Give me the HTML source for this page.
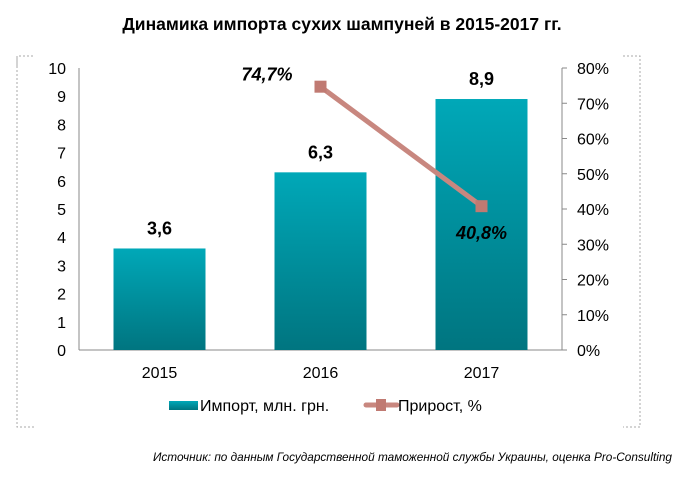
<!DOCTYPE html>
<html><head><meta charset="utf-8"><style>
body{margin:0;background:#fff;width:685px;height:473px;overflow:hidden;font-family:"Liberation Sans",Arial,sans-serif}
</style></head><body>
<svg id="chart" width="685" height="473">
<defs><linearGradient id="bg" x1="0" y1="0" x2="0" y2="1"><stop offset="0" stop-color="#00a8b8"/><stop offset="1" stop-color="#007580"/></linearGradient></defs>
<text x="342" y="30" text-anchor="middle" font-size="17.5" font-weight="bold">Динамика импорта сухих шампуней в 2015-2017 гг.</text>
<path d="M17,66 V56 H34 M623,56 H640 V427 H623 M34,427 H17 V56" fill="none" stroke="#aaa" stroke-dasharray="2,2"/>
<g id="g"></g>
<text x="672" y="461" text-anchor="end" font-size="11.8" font-style="italic">Источник: по данным Государственной таможенной службы Украины, оценка Pro-Consulting</text>
</svg>
<script>
const categories=["2015","2016","2017"];
const imports=[3.6,6.3,8.9];
const importLabels=["3,6","6,3","8,9"];
const growthCats=["2016","2017"];
const growth=[74.7,40.8];
const growthLabels=["74,7%","40,8%"];
const leftTicks=[0,1,2,3,4,5,6,7,8,9,10];
const rightTicks=[0,10,20,30,40,50,60,70,80];
const L=79,R=562,T=68,B=350;
const yL=v=>B-(v/10)*(B-T);
const yR=v=>B-(v/80)*(B-T);
const bw=(R-L)/categories.length;
const xC=i=>L+bw*(i+0.5);
const g=document.getElementById('g');
const NS="http://www.w3.org/2000/svg";
function mk(t,a,txt){const e=document.createElementNS(NS,t);for(const k in a)e.setAttribute(k,a[k]);if(txt!=null)e.textContent=txt;g.appendChild(e);return e;}
let e;
e=mk('line',{x1:L,y1:T,x2:L,y2:B,stroke:'#888'});


e=mk('line',{x1:R,y1:T,x2:R,y2:B,stroke:'#888'});


e=mk('line',{x1:L,y1:B,x2:R,y2:B,stroke:'#888'});


leftTicks.forEach(v=>{
e=mk('text',{x:66,y:yL(v)+6,'text-anchor':'end','font-size':16},String(v));


});
rightTicks.forEach(v=>{
mk('line',{x1:R,y1:yR(v),x2:R+5,y2:yR(v),stroke:'#888'});
e=mk('text',{x:577,y:yR(v)+6,'font-size':16},v+'%');


});
categories.forEach((c,i)=>{
const x=xC(i);
e=mk('rect',{x:x-46,y:yL(imports[i]),width:92,height:B-yL(imports[i]),fill:'url(#bg)'});


e=mk('text',{x:x,y:yL(imports[i])-14,'text-anchor':'middle','font-size':18,'font-weight':'bold'},importLabels[i]);


e=mk('text',{x:x,y:378,'text-anchor':'middle','font-size':16},c);


});
const pts=growthCats.map((c,i)=>[xC(categories.indexOf(c)),yR(growth[i])]);
e=mk('polyline',{points:pts.map(p=>p.join(',')).join(' '),fill:'none',stroke:'#c8877f','stroke-width':5});


pts.forEach((p,i)=>{
e=mk('rect',{x:p[0]-6,y:p[1]-6,width:12,height:12,fill:'#c07a72'});


});
e=mk('text',{x:pts[0][0]-28,y:pts[0][1]-6,'text-anchor':'end','font-size':18,'font-weight':'bold','font-style':'italic'},growthLabels[0]);


e=mk('text',{x:pts[1][0],y:pts[1][1]+33,'text-anchor':'middle','font-size':18,'font-weight':'bold','font-style':'italic'},growthLabels[1]);


e=mk('rect',{x:169,y:401,width:29,height:9,fill:'url(#bg)'});


e=mk('text',{x:200,y:411,'font-size':16},'Импорт, млн. грн.');


mk('line',{x1:366,y1:405,x2:397,y2:405,stroke:'#c8877f','stroke-width':5,'stroke-linecap':'round'});
e=mk('rect',{x:376,y:399,width:10,height:12,fill:'#c07a72'});


e=mk('text',{x:398,y:411,'font-size':16},'Прирост, %');


</script>
</body></html>
